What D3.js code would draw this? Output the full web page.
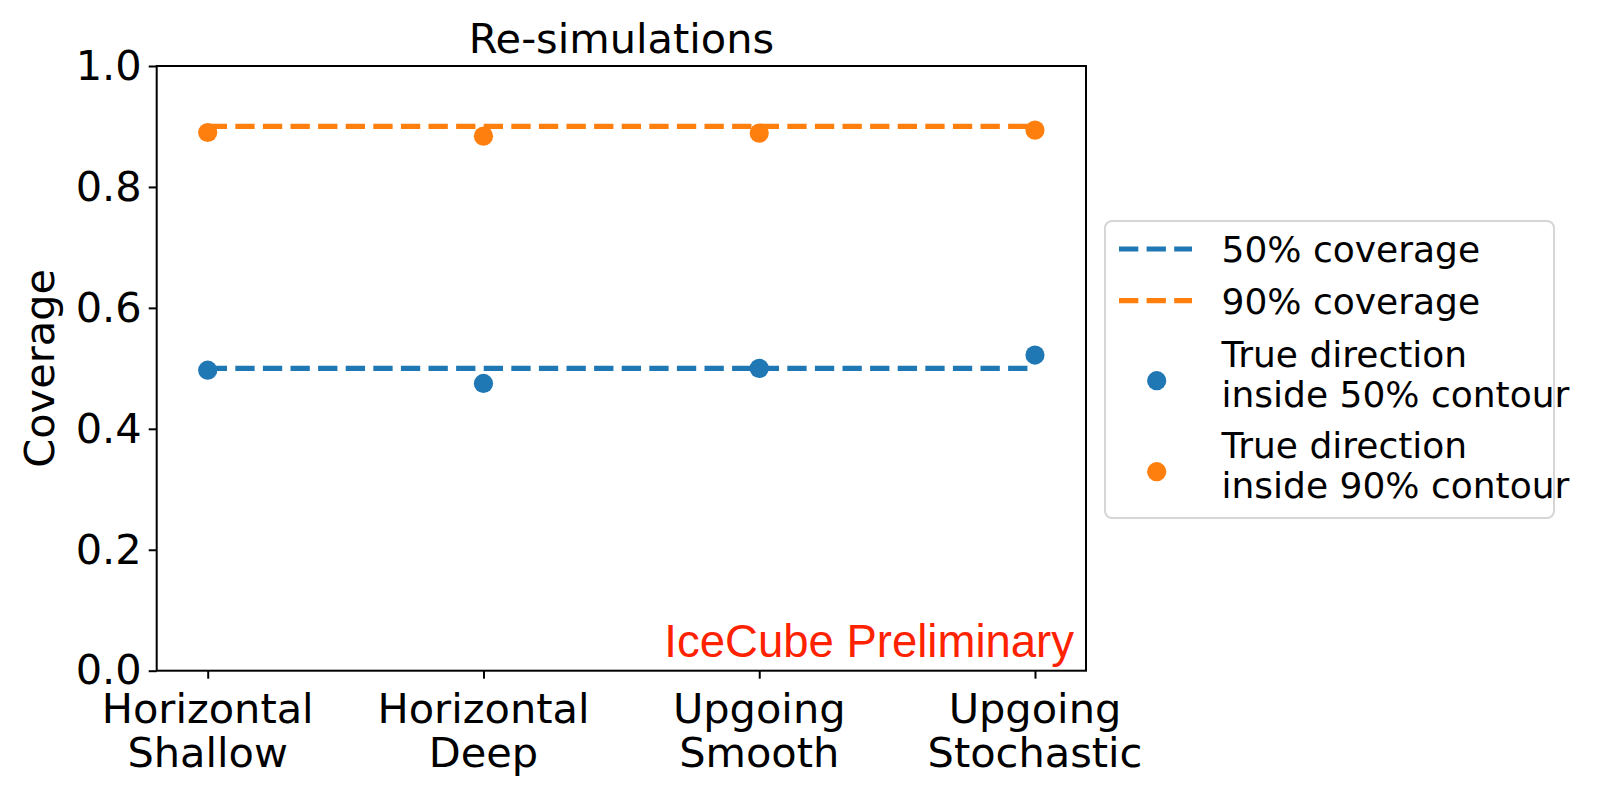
<!DOCTYPE html>
<html>
<head>
<meta charset="utf-8">
<script src="https://cdn.jsdelivr.net/npm/d3@7"></script>
<style>
  html, body { margin: 0; padding: 0; background: #fff; }
  svg { display: block; }
</style>
</head>
<body>
<svg id="chart" width="1603" height="797"></svg>
<script>
// ---- data ----
const categories = [["Horizontal", "Shallow"], ["Horizontal", "Deep"], ["Upgoing", "Smooth"], ["Upgoing", "Stochastic"]];
const inside50 = [0.497, 0.475, 0.500, 0.522];
const inside90 = [0.890, 0.884, 0.889, 0.894];
const nominal50 = [0.5, 0.5, 0.5, 0.5];
const nominal90 = [0.9, 0.9, 0.9, 0.9];
const yTicks = [0.0, 0.2, 0.4, 0.6, 0.8, 1.0];
const legendLabels = ["50% coverage", "90% coverage", ["True direction", "inside 50% contour"], ["True direction", "inside 90% contour"]];

const blue = "#1f77b4", orange = "#ff7f0e";
const svg = d3.select("#chart");
const font = "'DejaVu Sans', sans-serif";
const fs = 41.5;

const L = 156.7, R = 1086, T = 66, B = 670.7;
const x = d3.scaleLinear().domain([-0.185, 3.185]).range([L, R]);
const y = d3.scaleLinear().domain([0, 1]).range([B, T]);

// lines
const line = d3.line().x((d, i) => x(i)).y(d => y(d));
[[nominal50, blue], [nominal90, orange]].forEach(([vals, c]) => {
  svg.append("path").datum(vals).attr("d", line)
    .attr("fill", "none").attr("stroke", c).attr("stroke-width", 5.2)
    .attr("stroke-dasharray", "19.3 8.3");
});

// points
[[inside50, blue], [inside90, orange]].forEach(([vals, c]) => {
  svg.append("g").selectAll("circle").data(vals).join("circle")
    .attr("cx", (d, i) => x(i)).attr("cy", d => y(d)).attr("r", 9.6).attr("fill", c);
});

// frame
svg.append("rect").attr("x", L).attr("y", T).attr("width", R - L).attr("height", B - T)
  .attr("fill", "none").attr("stroke", "#000").attr("stroke-width", 2);

// y axis
const yAxis = d3.axisLeft(y).tickValues(yTicks).tickFormat(d3.format(".1f")).tickSize(8).tickPadding(7);
const gy = svg.append("g").attr("transform", `translate(${L},0)`).call(yAxis);
gy.select(".domain").remove();
gy.selectAll("line").attr("stroke", "#000").attr("stroke-width", 2);
gy.selectAll("text").attr("font-family", font).attr("font-size", fs).attr("fill", "#000");

// x axis
const xAxis = d3.axisBottom(x).tickValues(d3.range(categories.length)).tickFormat("").tickSize(8);
const gx = svg.append("g").attr("transform", `translate(0,${B})`).call(xAxis);
gx.select(".domain").remove();
gx.selectAll("line").attr("stroke", "#000").attr("stroke-width", 2);
categories.forEach((lines, i) => {
  const t = svg.append("text").attr("x", x(i)).attr("text-anchor", "middle")
    .attr("font-family", font).attr("font-size", fs).attr("fill", "#000");
  lines.forEach((s, k) => t.append("tspan").attr("x", x(i)).attr("y", 722.7 + k * 44.6).text(s));
});

// title & labels
svg.append("text").attr("x", (L + R) / 2).attr("y", 53).attr("text-anchor", "middle")
  .attr("font-family", font).attr("font-size", fs).text("Re-simulations");
svg.append("text").attr("transform", `translate(54,${(T + B) / 2}) rotate(-90)`).attr("text-anchor", "middle")
  .attr("font-family", font).attr("font-size", fs).text("Coverage");
svg.append("text").attr("x", 1074).attr("y", 656.5).attr("text-anchor", "end")
  .attr("font-family", "'Liberation Sans', Arial, sans-serif").attr("font-size", 45.5)
  .attr("fill", "#ff2200").text("IceCube Preliminary");

// legend
const lg = svg.append("g");
lg.append("rect").attr("x", 1105).attr("y", 221).attr("width", 449).attr("height", 297).attr("rx", 7)
  .attr("fill", "#fff").attr("fill-opacity", 0.8).attr("stroke", "#d6d6d6").attr("stroke-width", 2);
const lf = 36;
[[249, blue], [300.7, orange]].forEach(([yy, c], i) => {
  lg.append("line").attr("x1", 1119).attr("x2", 1192).attr("y1", yy).attr("y2", yy)
    .attr("stroke", c).attr("stroke-width", 5.2).attr("stroke-dasharray", "19.3 8.3");
  lg.append("text").attr("x", 1221.5).attr("y", yy + 13.3).attr("font-family", font).attr("font-size", lf)
    .text(legendLabels[i]);
});
[[380.7, blue, 366.7], [471.7, orange, 458.3]].forEach(([yy, c, by], i) => {
  lg.append("circle").attr("cx", 1156.7).attr("cy", yy).attr("r", 9.6).attr("fill", c);
  const t = lg.append("text").attr("font-family", font).attr("font-size", lf);
  legendLabels[i + 2].forEach((s, k) => t.append("tspan").attr("x", 1221.5).attr("y", by + k * 40).text(s));
});
</script>
</body>
</html>
